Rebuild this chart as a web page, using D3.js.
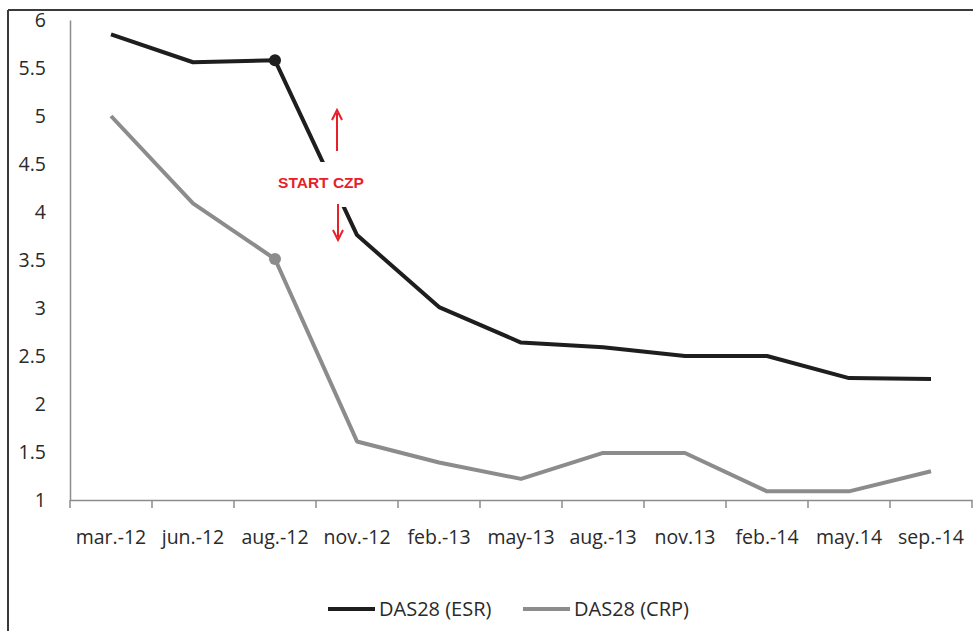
<!DOCTYPE html>
<html>
<head>
<meta charset="utf-8">
<script src="https://cdn.jsdelivr.net/npm/d3@7"></script>
<style>
  html, body { margin: 0; padding: 0; background: #fff; }
  svg { display: block; }
</style>
</head>
<body>
<svg id="chart" width="973" height="631"></svg>
<script>
const categories = ["mar.-12","jun.-12","aug.-12","nov.-12","feb.-13","may-13","aug.-13","nov.13","feb.-14","may.14","sep.-14"];
const esrValues = [5.85, 5.56, 5.58, 3.76, 3.01, 2.64, 2.59, 2.50, 2.50, 2.27, 2.26];
const crpValues = [5.00, 4.09, 3.51, 1.61, 1.39, 1.22, 1.49, 1.49, 1.09, 1.09, 1.30];
const yTicks = [1, 1.5, 2, 2.5, 3, 3.5, 4, 4.5, 5, 5.5, 6];
const markerIndex = 2;
const seriesNames = ["DAS28 (ESR)", "DAS28 (CRP)"];
const annotationText = "START CZP";

const svg = d3.select("#chart");
const font = "'Open Sans', sans-serif";

// frame
svg.append("line").attr("x1", 8).attr("x2", 973).attr("y1", 10).attr("y2", 10)
  .attr("stroke", "#3a3a3a").attr("stroke-width", 2);
svg.append("line").attr("x1", 8).attr("x2", 8).attr("y1", 10).attr("y2", 631)
  .attr("stroke", "#3a3a3a").attr("stroke-width", 2);

const x = d3.scaleBand().domain(categories).range([70, 972]);
const y = d3.scaleLinear().domain([1, 6]).range([500, 20]);

// y axis
const yAxis = d3.axisLeft(y).tickValues(yTicks).tickSize(0).tickPadding(24)
  .tickFormat(d => String(d));
const gy = svg.append("g").attr("transform", "translate(70,0)").call(yAxis);
gy.select(".domain").attr("stroke", "#8c8c8c").attr("stroke-width", 1.5);
gy.selectAll("text").attr("font-family", font).attr("font-size", 19.5).attr("fill", "#2a2a2a");

// x axis
const xAxis = d3.axisBottom(x).tickSize(0).tickPadding(30);
const gx = svg.append("g").attr("transform", "translate(0,500)").call(xAxis);
gx.select(".domain").attr("stroke", "#8c8c8c").attr("stroke-width", 1.5);
gx.selectAll("text").attr("font-family", font).attr("font-size", 19.5).attr("fill", "#2a2a2a");
// boundary ticks
const bounds = categories.map(c => x(c)).concat([x.range()[1]]);
gx.selectAll(".btick").data(bounds).enter().append("line")
  .attr("x1", d => d).attr("x2", d => d).attr("y1", 0).attr("y2", 8)
  .attr("stroke", "#8c8c8c").attr("stroke-width", 1.5);

const cx = d => x(d) + x.bandwidth() / 2;
const line = d3.line().x((d, i) => cx(categories[i])).y(d => y(d));

svg.append("path").datum(crpValues).attr("d", line)
  .attr("fill", "none").attr("stroke", "#8c8c8c").attr("stroke-width", 4)
  .attr("stroke-linejoin", "round");
svg.append("path").datum(esrValues).attr("d", line)
  .attr("fill", "none").attr("stroke", "#1e1e1e").attr("stroke-width", 4)
  .attr("stroke-linejoin", "round");

svg.append("circle").attr("cx", cx(categories[markerIndex])).attr("cy", y(esrValues[markerIndex]))
  .attr("r", 6).attr("fill", "#1e1e1e");
svg.append("circle").attr("cx", cx(categories[markerIndex])).attr("cy", y(crpValues[markerIndex]))
  .attr("r", 6).attr("fill", "#8c8c8c");

// annotation
const red = "#e8202a";
svg.append("rect").attr("x", 272).attr("y", 162).attr("width", 96).attr("height", 45).attr("fill", "#fff");
svg.append("text").attr("x", 321).attr("y", 188).attr("text-anchor", "middle")
  .attr("font-family", "'Liberation Sans', Arial, sans-serif").attr("font-weight", "bold")
  .attr("font-size", 15.5).attr("fill", red).text(annotationText);
svg.append("line").attr("x1", 337).attr("x2", 337).attr("y1", 151).attr("y2", 113)
  .attr("stroke", red).attr("stroke-width", 2);
svg.append("path").attr("d", "M332,120 L337,110 L342,120").attr("fill", "none").attr("stroke", red).attr("stroke-width", 2);
svg.append("line").attr("x1", 338).attr("x2", 338).attr("y1", 204).attr("y2", 237)
  .attr("stroke", red).attr("stroke-width", 2);
svg.append("path").attr("d", "M333,230 L338,240 L343,230").attr("fill", "none").attr("stroke", red).attr("stroke-width", 2);

// legend
const legendColors = ["#1e1e1e", "#8c8c8c"];
const legendX = [328, 523];
seriesNames.forEach((n, i) => {
  svg.append("line").attr("x1", legendX[i]).attr("x2", legendX[i] + 47).attr("y1", 609).attr("y2", 609)
    .attr("stroke", legendColors[i]).attr("stroke-width", 4);
  svg.append("text").attr("x", legendX[i] + 51).attr("y", 616)
    .attr("font-family", font).attr("font-size", 20)
    .attr("fill", "#2a2a2a").text(n);
});
</script>
</body>
</html>
